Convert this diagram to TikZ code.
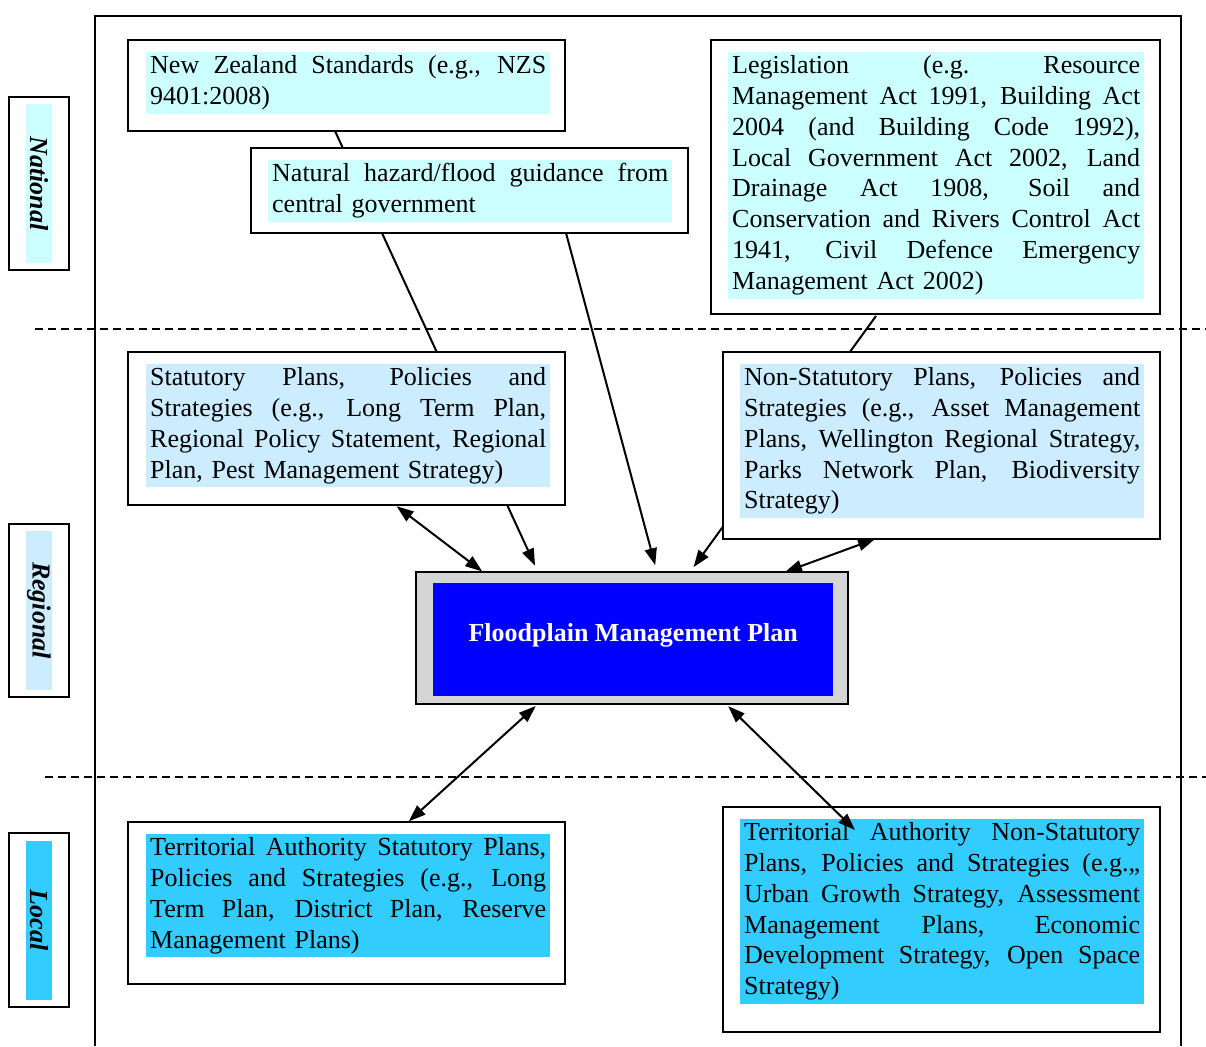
\documentclass[tikz,border=0pt]{standalone}
\usepackage{fontspec}
\setmainfont{Liberation Serif}
\usetikzlibrary{arrows.meta,backgrounds}
\definecolor{natcyan}{HTML}{CCFFFF}
\definecolor{regblue}{HTML}{CCECFF}
\definecolor{locblue}{HTML}{33CCFF}
\definecolor{fmpgray}{HTML}{D4D4D4}
\newcommand{\jl}[2][396pt]{\leavevmode\hbox to #1{\spaceskip=.25em plus 1fil\xspaceskip=\spaceskip\strut#2}\\}

\begin{document}
\begin{tikzpicture}[x=1pt,y=-1pt,every node/.style={font=\fontsize{26}{30.8}\selectfont},
	panel/.style={draw,line width=2pt,fill=white,outer sep=0pt,inner sep=0pt,anchor=north west},
	txt/.style={fill=#1,text width=396pt,align=left,inner xsep=4pt,inner ysep=0pt,anchor=north west},
	tier/.style={fill=#1,rotate=-90,minimum width=159pt,minimum height=26pt,inner sep=0pt,font=\fontsize{26}{30.8}\selectfont\bfseries\itshape},
	link/.style={line width=2pt,-{Triangle[length=17pt,width=12pt]}},
	both/.style={line width=2pt,{Triangle[length=17pt,width=12pt]}-{Triangle[length=17pt,width=12pt]}}]
	\useasboundingbox (0,0) rectangle (1206,1046);
	\draw[line width=2pt] (95,1046) -- (95,16) -- (1181,16) -- (1181,1046);
	\draw[line width=2pt,dash pattern=on 8pt off 5pt] (35,329) -- (1206,329);
	\draw[line width=2pt,dash pattern=on 8pt off 5pt] (45,777) -- (1206,777);

	\node[panel,minimum width=60pt,minimum height=173pt] (natbox) at (9,97) {};
	\node[tier=natcyan] (nat) at (natbox.center) {National};
	\node[panel,minimum width=60pt,minimum height=173pt] (regbox) at (9,524) {};
	\node[tier=regblue] (reg) at (regbox.center) {Regional};
	\node[panel,minimum width=60pt,minimum height=174pt] (locbox) at (9,833) {};
	\node[tier=locblue] (loc) at (locbox.center) {Local};

	\node[panel,minimum width=437pt,minimum height=91pt] (nzs) at (128,40) {};
	\node[txt=natcyan] (nzstext) at ([shift={(18,12)}]nzs.north west) {\jl{New Zealand Standards (e.g., NZS}\strut 9401:2008)};
	\node[panel,minimum width=437pt,minimum height=85pt] (nh) at (251,148) {};
	\node[txt=natcyan] (nhtext) at ([shift={(17,12)}]nh.north west) {\jl{Natural hazard/flood guidance from}\strut central government};
	\node[panel,minimum width=449pt,minimum height=274pt] (leg) at (711,40) {};
	\node[txt=natcyan,text width=408pt] (legtext) at ([shift={(17,12)}]leg.north west) {\jl[408pt]{Legislation (e.g. Resource}\jl[408pt]{Management Act 1991, Building Act}\jl[408pt]{2004 (and Building Code 1992),}\jl[408pt]{Local Government Act 2002, Land}\jl[408pt]{Drainage Act 1908, Soil and}\jl[408pt]{Conservation and Rivers Control Act}\jl[408pt]{1941, Civil Defence Emergency}\strut Management Act 2002)};

	\node[panel,minimum width=437pt,minimum height=153pt] (stat) at (128,352) {};
	\node[txt=regblue] (stattext) at ([shift={(18,12)}]stat.north west) {\jl{Statutory Plans, Policies and}\jl{Strategies (e.g., Long Term Plan,}\jl{Regional Policy Statement, Regional}\strut Plan, Pest Management Strategy)};
	\node[panel,minimum width=437pt,minimum height=187pt] (nonstat) at (723,352) {};
	\node[txt=regblue] (nonstattext) at ([shift={(17,12)}]nonstat.north west) {\jl{Non-Statutory Plans, Policies and}\jl{Strategies (e.g., Asset Management}\jl{Plans, Wellington Regional Strategy,}\jl{Parks Network Plan, Biodiversity}\strut Strategy)};

	\node[panel,fill=fmpgray,minimum width=432pt,minimum height=132pt] (fmp) at (416,572) {};
	\node[fill=blue,anchor=north west,minimum width=400pt,minimum height=113pt,inner sep=0pt] (fmpin) at ([shift={(17,11)}]fmp.north west) {};
	\node[text=white,font=\fontsize{26}{30.8}\selectfont\bfseries] (fmptext) at ([yshift=4pt]fmpin.center) {Floodplain Management Plan};

	\node[panel,minimum width=437pt,minimum height=162pt] (tastat) at (128,822) {};
	\node[txt=locblue] (tastattext) at ([shift={(18,12)}]tastat.north west) {\jl{Territorial Authority Statutory Plans,}\jl{Policies and Strategies (e.g., Long}\jl{Term Plan, District Plan, Reserve}\strut Management Plans)};
	\node[panel,minimum width=437pt,minimum height=225pt] (tanon) at (723,807) {};
	\node[txt=locblue] (tanontext) at ([shift={(17,12)}]tanon.north west) {\jl{Territorial Authority Non-Statutory}\jl{Plans, Policies and Strategies (e.g.,,}\jl{Urban Growth Strategy, Assessment}\jl{Management Plans, Economic}\jl{Development Strategy, Open Space}\strut Strategy)};

	\begin{pgfonlayer}{background}
		\draw[link,shorten >=7pt] ([shift={(207,0)}]nzs.south west) -- ([shift={(122,0)}]fmp.north west);
		\draw[link,shorten >=6pt] ([shift={(165,2)}]leg.south west) -- ([shift={(274,0)}]fmp.north west);
	\end{pgfonlayer}
	\draw[link,shorten >=7pt] ([shift={(315,0)}]nh.south west) -- ([shift={(241,0)}]fmp.north west);
	\draw[both,shorten <=2pt,shorten >=1pt] ([shift={(267,0)}]stat.south west) -- ([shift={(67,0)}]fmp.north west);
	\draw[both] ([shift={(152,0)}]nonstat.south west) -- ([shift={(369,0)}]fmp.north west);
	\draw[both,shorten <=3pt,shorten >=1pt] ([shift={(122,0)}]fmp.south west) -- ([shift={(280,0)}]tastat.north west);
	\draw[both,shorten <=3pt] ([shift={(310,0)}]fmp.south west) -- ([shift={(132,23)}]tanon.north west);
\end{tikzpicture}
\end{document}
